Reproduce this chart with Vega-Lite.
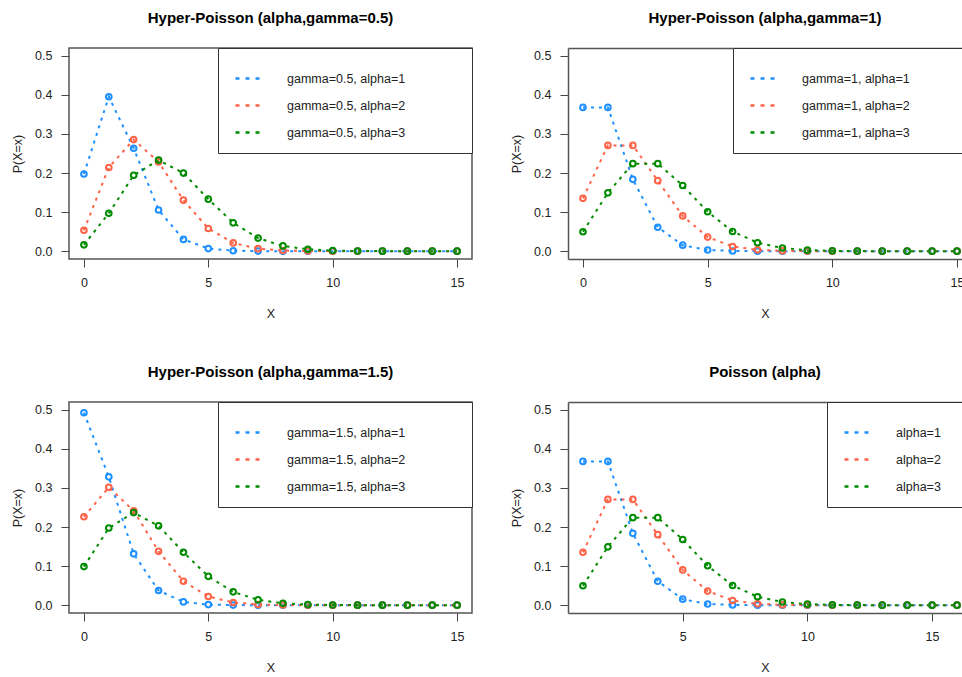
{
  "$schema": "https://vega.github.io/schema/vega-lite/v6.json",
  "padding": {"left": 10, "top": 9, "right": 0, "bottom": 0},
  "background": "white",
  "datasets": {
    "g05": [
      {"series": "gamma=0.5, alpha=1", "x": 0, "p": 0.19762}, {"series": "gamma=0.5, alpha=1", "x": 1, "p": 0.39524}, {"series": "gamma=0.5, alpha=1", "x": 2, "p": 0.26349}, {"series": "gamma=0.5, alpha=1", "x": 3, "p": 0.1054}, {"series": "gamma=0.5, alpha=1", "x": 4, "p": 0.030114}, {"series": "gamma=0.5, alpha=1", "x": 5, "p": 0.0066918}, {"series": "gamma=0.5, alpha=1", "x": 6, "p": 0.0012167}, {"series": "gamma=0.5, alpha=1", "x": 7, "p": 0.00018719}, {"series": "gamma=0.5, alpha=1", "x": 8, "p": 0.000024957}, {"series": "gamma=0.5, alpha=1", "x": 9, "p": 2.9e-6}, {"series": "gamma=0.5, alpha=1", "x": 10, "p": 3.1e-7}, {"series": "gamma=0.5, alpha=1", "x": 11, "p": 2.9e-8}, {"series": "gamma=0.5, alpha=1", "x": 12, "p": 2.5e-9}, {"series": "gamma=0.5, alpha=1", "x": 13, "p": 0}, {"series": "gamma=0.5, alpha=1", "x": 14, "p": 0}, {"series": "gamma=0.5, alpha=1", "x": 15, "p": 0},
      {"series": "gamma=0.5, alpha=2", "x": 0, "p": 0.053536}, {"series": "gamma=0.5, alpha=2", "x": 1, "p": 0.21414}, {"series": "gamma=0.5, alpha=2", "x": 2, "p": 0.28553}, {"series": "gamma=0.5, alpha=2", "x": 3, "p": 0.22842}, {"series": "gamma=0.5, alpha=2", "x": 4, "p": 0.13053}, {"series": "gamma=0.5, alpha=2", "x": 5, "p": 0.058011}, {"series": "gamma=0.5, alpha=2", "x": 6, "p": 0.021095}, {"series": "gamma=0.5, alpha=2", "x": 7, "p": 0.0064908}, {"series": "gamma=0.5, alpha=2", "x": 8, "p": 0.0017309}, {"series": "gamma=0.5, alpha=2", "x": 9, "p": 0.00040727}, {"series": "gamma=0.5, alpha=2", "x": 10, "p": 0.000085743}, {"series": "gamma=0.5, alpha=2", "x": 11, "p": 0.000016332}, {"series": "gamma=0.5, alpha=2", "x": 12, "p": 2.84e-6}, {"series": "gamma=0.5, alpha=2", "x": 13, "p": 4.5e-7}, {"series": "gamma=0.5, alpha=2", "x": 14, "p": 6.7e-8}, {"series": "gamma=0.5, alpha=2", "x": 15, "p": 9.3e-9},
      {"series": "gamma=0.5, alpha=3", "x": 0, "p": 0.016186}, {"series": "gamma=0.5, alpha=3", "x": 1, "p": 0.097117}, {"series": "gamma=0.5, alpha=3", "x": 2, "p": 0.19423}, {"series": "gamma=0.5, alpha=3", "x": 3, "p": 0.23308}, {"series": "gamma=0.5, alpha=3", "x": 4, "p": 0.19979}, {"series": "gamma=0.5, alpha=3", "x": 5, "p": 0.13319}, {"series": "gamma=0.5, alpha=3", "x": 6, "p": 0.07265}, {"series": "gamma=0.5, alpha=3", "x": 7, "p": 0.033531}, {"series": "gamma=0.5, alpha=3", "x": 8, "p": 0.013412}, {"series": "gamma=0.5, alpha=3", "x": 9, "p": 0.0047336}, {"series": "gamma=0.5, alpha=3", "x": 10, "p": 0.0014948}, {"series": "gamma=0.5, alpha=3", "x": 11, "p": 0.0004271}, {"series": "gamma=0.5, alpha=3", "x": 12, "p": 0.00011142}, {"series": "gamma=0.5, alpha=3", "x": 13, "p": 0.00002674}, {"series": "gamma=0.5, alpha=3", "x": 14, "p": 5.94e-6}, {"series": "gamma=0.5, alpha=3", "x": 15, "p": 1.23e-6}
    ],
    "g1": [
      {"series": "gamma=1, alpha=1", "x": 0, "p": 0.36788}, {"series": "gamma=1, alpha=1", "x": 1, "p": 0.36788}, {"series": "gamma=1, alpha=1", "x": 2, "p": 0.18394}, {"series": "gamma=1, alpha=1", "x": 3, "p": 0.061313}, {"series": "gamma=1, alpha=1", "x": 4, "p": 0.015328}, {"series": "gamma=1, alpha=1", "x": 5, "p": 0.0030657}, {"series": "gamma=1, alpha=1", "x": 6, "p": 0.00051094}, {"series": "gamma=1, alpha=1", "x": 7, "p": 0.000072992}, {"series": "gamma=1, alpha=1", "x": 8, "p": 9.12e-6}, {"series": "gamma=1, alpha=1", "x": 9, "p": 1.01e-6}, {"series": "gamma=1, alpha=1", "x": 10, "p": 1.0e-7}, {"series": "gamma=1, alpha=1", "x": 11, "p": 9.2e-9}, {"series": "gamma=1, alpha=1", "x": 12, "p": 7.7e-10}, {"series": "gamma=1, alpha=1", "x": 13, "p": 0}, {"series": "gamma=1, alpha=1", "x": 14, "p": 0}, {"series": "gamma=1, alpha=1", "x": 15, "p": 0},
      {"series": "gamma=1, alpha=2", "x": 0, "p": 0.13534}, {"series": "gamma=1, alpha=2", "x": 1, "p": 0.27067}, {"series": "gamma=1, alpha=2", "x": 2, "p": 0.27067}, {"series": "gamma=1, alpha=2", "x": 3, "p": 0.18045}, {"series": "gamma=1, alpha=2", "x": 4, "p": 0.090224}, {"series": "gamma=1, alpha=2", "x": 5, "p": 0.036089}, {"series": "gamma=1, alpha=2", "x": 6, "p": 0.01203}, {"series": "gamma=1, alpha=2", "x": 7, "p": 0.003437}, {"series": "gamma=1, alpha=2", "x": 8, "p": 0.00085927}, {"series": "gamma=1, alpha=2", "x": 9, "p": 0.00019095}, {"series": "gamma=1, alpha=2", "x": 10, "p": 0.00003819}, {"series": "gamma=1, alpha=2", "x": 11, "p": 6.94e-6}, {"series": "gamma=1, alpha=2", "x": 12, "p": 1.16e-6}, {"series": "gamma=1, alpha=2", "x": 13, "p": 1.8e-7}, {"series": "gamma=1, alpha=2", "x": 14, "p": 2.5e-8}, {"series": "gamma=1, alpha=2", "x": 15, "p": 3.4e-9},
      {"series": "gamma=1, alpha=3", "x": 0, "p": 0.049787}, {"series": "gamma=1, alpha=3", "x": 1, "p": 0.14936}, {"series": "gamma=1, alpha=3", "x": 2, "p": 0.22404}, {"series": "gamma=1, alpha=3", "x": 3, "p": 0.22404}, {"series": "gamma=1, alpha=3", "x": 4, "p": 0.16803}, {"series": "gamma=1, alpha=3", "x": 5, "p": 0.10082}, {"series": "gamma=1, alpha=3", "x": 6, "p": 0.050409}, {"series": "gamma=1, alpha=3", "x": 7, "p": 0.021604}, {"series": "gamma=1, alpha=3", "x": 8, "p": 0.0081015}, {"series": "gamma=1, alpha=3", "x": 9, "p": 0.0027005}, {"series": "gamma=1, alpha=3", "x": 10, "p": 0.00081015}, {"series": "gamma=1, alpha=3", "x": 11, "p": 0.00022095}, {"series": "gamma=1, alpha=3", "x": 12, "p": 0.000055238}, {"series": "gamma=1, alpha=3", "x": 13, "p": 0.000012747}, {"series": "gamma=1, alpha=3", "x": 14, "p": 2.73e-6}, {"series": "gamma=1, alpha=3", "x": 15, "p": 5.5e-7}
    ],
    "g15": [
      {"series": "gamma=1.5, alpha=1", "x": 0, "p": 0.49259}, {"series": "gamma=1.5, alpha=1", "x": 1, "p": 0.3284}, {"series": "gamma=1.5, alpha=1", "x": 2, "p": 0.13136}, {"series": "gamma=1.5, alpha=1", "x": 3, "p": 0.037531}, {"series": "gamma=1.5, alpha=1", "x": 4, "p": 0.0083402}, {"series": "gamma=1.5, alpha=1", "x": 5, "p": 0.0015164}, {"series": "gamma=1.5, alpha=1", "x": 6, "p": 0.00023329}, {"series": "gamma=1.5, alpha=1", "x": 7, "p": 0.000031106}, {"series": "gamma=1.5, alpha=1", "x": 8, "p": 3.66e-6}, {"series": "gamma=1.5, alpha=1", "x": 9, "p": 3.85e-7}, {"series": "gamma=1.5, alpha=1", "x": 10, "p": 3.7e-8}, {"series": "gamma=1.5, alpha=1", "x": 11, "p": 3.2e-9}, {"series": "gamma=1.5, alpha=1", "x": 12, "p": 0}, {"series": "gamma=1.5, alpha=1", "x": 13, "p": 0}, {"series": "gamma=1.5, alpha=1", "x": 14, "p": 0}, {"series": "gamma=1.5, alpha=1", "x": 15, "p": 0},
      {"series": "gamma=1.5, alpha=2", "x": 0, "p": 0.22626}, {"series": "gamma=1.5, alpha=2", "x": 1, "p": 0.30168}, {"series": "gamma=1.5, alpha=2", "x": 2, "p": 0.24134}, {"series": "gamma=1.5, alpha=2", "x": 3, "p": 0.13791}, {"series": "gamma=1.5, alpha=2", "x": 4, "p": 0.061294}, {"series": "gamma=1.5, alpha=2", "x": 5, "p": 0.022289}, {"series": "gamma=1.5, alpha=2", "x": 6, "p": 0.0068581}, {"series": "gamma=1.5, alpha=2", "x": 7, "p": 0.0018288}, {"series": "gamma=1.5, alpha=2", "x": 8, "p": 0.0004303}, {"series": "gamma=1.5, alpha=2", "x": 9, "p": 0.000090588}, {"series": "gamma=1.5, alpha=2", "x": 10, "p": 0.000017255}, {"series": "gamma=1.5, alpha=2", "x": 11, "p": 3.0e-6}, {"series": "gamma=1.5, alpha=2", "x": 12, "p": 4.8e-7}, {"series": "gamma=1.5, alpha=2", "x": 13, "p": 7.1e-8}, {"series": "gamma=1.5, alpha=2", "x": 14, "p": 9.8e-9}, {"series": "gamma=1.5, alpha=2", "x": 15, "p": 1.3e-9},
      {"series": "gamma=1.5, alpha=3", "x": 0, "p": 0.098717}, {"series": "gamma=1.5, alpha=3", "x": 1, "p": 0.19743}, {"series": "gamma=1.5, alpha=3", "x": 2, "p": 0.23692}, {"series": "gamma=1.5, alpha=3", "x": 3, "p": 0.20307}, {"series": "gamma=1.5, alpha=3", "x": 4, "p": 0.13538}, {"series": "gamma=1.5, alpha=3", "x": 5, "p": 0.073845}, {"series": "gamma=1.5, alpha=3", "x": 6, "p": 0.034082}, {"series": "gamma=1.5, alpha=3", "x": 7, "p": 0.013633}, {"series": "gamma=1.5, alpha=3", "x": 8, "p": 0.0048116}, {"series": "gamma=1.5, alpha=3", "x": 9, "p": 0.0015195}, {"series": "gamma=1.5, alpha=3", "x": 10, "p": 0.00043414}, {"series": "gamma=1.5, alpha=3", "x": 11, "p": 0.00011325}, {"series": "gamma=1.5, alpha=3", "x": 12, "p": 0.000027181}, {"series": "gamma=1.5, alpha=3", "x": 13, "p": 6.04e-6}, {"series": "gamma=1.5, alpha=3", "x": 14, "p": 1.25e-6}, {"series": "gamma=1.5, alpha=3", "x": 15, "p": 2.4e-7}
    ],
    "pois": [
      {"series": "alpha=1", "x": 1, "p": 0.36788}, {"series": "alpha=1", "x": 2, "p": 0.36788}, {"series": "alpha=1", "x": 3, "p": 0.18394}, {"series": "alpha=1", "x": 4, "p": 0.061313}, {"series": "alpha=1", "x": 5, "p": 0.015328}, {"series": "alpha=1", "x": 6, "p": 0.0030657}, {"series": "alpha=1", "x": 7, "p": 0.00051094}, {"series": "alpha=1", "x": 8, "p": 0.000072992}, {"series": "alpha=1", "x": 9, "p": 9.12e-6}, {"series": "alpha=1", "x": 10, "p": 1.01e-6}, {"series": "alpha=1", "x": 11, "p": 1.0e-7}, {"series": "alpha=1", "x": 12, "p": 9.2e-9}, {"series": "alpha=1", "x": 13, "p": 7.7e-10}, {"series": "alpha=1", "x": 14, "p": 0}, {"series": "alpha=1", "x": 15, "p": 0}, {"series": "alpha=1", "x": 16, "p": 0},
      {"series": "alpha=2", "x": 1, "p": 0.13534}, {"series": "alpha=2", "x": 2, "p": 0.27067}, {"series": "alpha=2", "x": 3, "p": 0.27067}, {"series": "alpha=2", "x": 4, "p": 0.18045}, {"series": "alpha=2", "x": 5, "p": 0.090224}, {"series": "alpha=2", "x": 6, "p": 0.036089}, {"series": "alpha=2", "x": 7, "p": 0.01203}, {"series": "alpha=2", "x": 8, "p": 0.003437}, {"series": "alpha=2", "x": 9, "p": 0.00085927}, {"series": "alpha=2", "x": 10, "p": 0.00019095}, {"series": "alpha=2", "x": 11, "p": 0.00003819}, {"series": "alpha=2", "x": 12, "p": 6.94e-6}, {"series": "alpha=2", "x": 13, "p": 1.16e-6}, {"series": "alpha=2", "x": 14, "p": 1.8e-7}, {"series": "alpha=2", "x": 15, "p": 2.5e-8}, {"series": "alpha=2", "x": 16, "p": 3.4e-9},
      {"series": "alpha=3", "x": 1, "p": 0.049787}, {"series": "alpha=3", "x": 2, "p": 0.14936}, {"series": "alpha=3", "x": 3, "p": 0.22404}, {"series": "alpha=3", "x": 4, "p": 0.22404}, {"series": "alpha=3", "x": 5, "p": 0.16803}, {"series": "alpha=3", "x": 6, "p": 0.10082}, {"series": "alpha=3", "x": 7, "p": 0.050409}, {"series": "alpha=3", "x": 8, "p": 0.021604}, {"series": "alpha=3", "x": 9, "p": 0.0081015}, {"series": "alpha=3", "x": 10, "p": 0.0027005}, {"series": "alpha=3", "x": 11, "p": 0.00081015}, {"series": "alpha=3", "x": 12, "p": 0.00022095}, {"series": "alpha=3", "x": 13, "p": 0.000055238}, {"series": "alpha=3", "x": 14, "p": 0.000012747}, {"series": "alpha=3", "x": 15, "p": 2.73e-6}, {"series": "alpha=3", "x": 16, "p": 5.5e-7}
    ]
  },
  "config": {
    "font": "Liberation Sans",
    "view": {"stroke": "#555", "strokeWidth": 1.5},
    "axis": {
      "grid": false,
      "labelFont": "Liberation Sans", "labelFontSize": 12.5, "labelColor": "#222",
      "titleFont": "Liberation Sans", "titleFontSize": 12.5, "titleFontWeight": "normal", "titleColor": "#222",
      "tickSize": 8, "tickColor": "#444", "tickWidth": 1,
      "domain": false, "domainColor": "#555", "domainWidth": 1.5,
      "labelPadding": 9
    },
    "axisX": {"labelAngle": 0, "titlePadding": 19},
    "axisY": {"titlePadding": 10},
    "title": {"font": "Liberation Sans", "fontSize": 15, "fontWeight": "bold", "color": "#000", "anchor": "middle", "offset": 22},
    "legend": {
      "orient": "top-right", "offset": 0,
      "strokeColor": "#333", "fillColor": "white", "padding": 14,
      "symbolType": "stroke", "symbolSize": 900, "symbolStrokeWidth": 2.5, "symbolDash": [4, 6], "symbolOffset": 2,
      "labelFont": "Liberation Sans", "labelFontSize": 12.5, "labelColor": "#222", "labelOffset": 20, "labelLimit": 400,
      "rowPadding": 4
    }
  },
  "columns": 2,
  "spacing": {"row": 143, "column": 96},
  "bounds": "flush",
  "resolve": {
    "scale": {"x": "independent", "y": "independent", "color": "independent"},
    "legend": {"color": "independent"}
  },
  "concat": [
    {
      "width": 403, "height": 211,
      "title": "Hyper-Poisson (alpha,gamma=0.5)",
      "data": {"name": "g05"},
      "encoding": {
        "x": {"field": "x", "type": "quantitative", "scale": {"domain": [-0.6, 15.6], "nice": false, "zero": false}, "axis": {"values": [0, 5, 10, 15], "title": "X"}},
        "y": {"field": "p", "type": "quantitative", "scale": {"domain": [-0.02, 0.52], "nice": false, "zero": false}, "axis": {"values": [0, 0.1, 0.2, 0.3, 0.4, 0.5], "format": ".1f", "title": "P(X=x)"}},
        "color": {"field": "series", "type": "nominal", "scale": {"domain": ["gamma=0.5, alpha=1", "gamma=0.5, alpha=2", "gamma=0.5, alpha=3"], "range": ["#1E90FF", "#FF6347", "#008B00"]}, "legend": {"title": null, "labelExpr": "datum.label + '\u00a0\u00a0\u00a0\u00a0\u00a0\u00a0\u00a0\u00a0\u00a0\u00a0\u00a0\u00a0\u00a0\u00a0\u00a0\u200b'"}}
      },
      "layer": [
        {"mark": {"type": "line", "strokeWidth": 2, "strokeDash": [3, 5]}},
        {"mark": {"type": "point", "filled": false, "size": 32, "strokeWidth": 2, "opacity": 1}}
      ]
    },
    {
      "width": 394, "height": 211,
      "title": "Hyper-Poisson (alpha,gamma=1)",
      "data": {"name": "g1"},
      "view": {"stroke": null},
      "encoding": {
        "y": {"field": "p", "type": "quantitative", "scale": {"domain": [-0.02, 0.52], "nice": false, "zero": false}, "axis": {"values": [0, 0.1, 0.2, 0.3, 0.4, 0.5], "format": ".1f", "title": "P(X=x)", "domain": true}},
        "color": {"field": "series", "type": "nominal", "scale": {"domain": ["gamma=1, alpha=1", "gamma=1, alpha=2", "gamma=1, alpha=3"], "range": ["#1E90FF", "#FF6347", "#008B00"]}, "legend": {"title": null, "labelExpr": "datum.label + '\u00a0\u00a0\u00a0\u00a0\u00a0\u00a0\u00a0\u00a0\u00a0\u00a0\u00a0\u200b'"}}
      },
      "layer": [
        {"mark": {"type": "line", "strokeWidth": 2, "strokeDash": [3, 5]},
         "encoding": {"x": {"field": "x", "type": "quantitative", "scale": {"domain": [-0.6, 15.2], "nice": false, "zero": false}, "axis": {"values": [0, 5, 10, 15], "title": "X", "domain": true}}}},
        {"mark": {"type": "point", "filled": false, "size": 32, "strokeWidth": 2, "opacity": 1},
         "encoding": {"x": {"field": "x", "type": "quantitative", "scale": {"domain": [-0.6, 15.2], "nice": false, "zero": false}, "axis": {"orient": "top", "labels": false, "ticks": false, "domain": true, "title": null}}}}
      ],
      "resolve": {"axis": {"x": "independent"}}
    },
    {
      "width": 403, "height": 211,
      "title": "Hyper-Poisson (alpha,gamma=1.5)",
      "data": {"name": "g15"},
      "encoding": {
        "x": {"field": "x", "type": "quantitative", "scale": {"domain": [-0.6, 15.6], "nice": false, "zero": false}, "axis": {"values": [0, 5, 10, 15], "title": "X"}},
        "y": {"field": "p", "type": "quantitative", "scale": {"domain": [-0.02, 0.52], "nice": false, "zero": false}, "axis": {"values": [0, 0.1, 0.2, 0.3, 0.4, 0.5], "format": ".1f", "title": "P(X=x)"}},
        "color": {"field": "series", "type": "nominal", "scale": {"domain": ["gamma=1.5, alpha=1", "gamma=1.5, alpha=2", "gamma=1.5, alpha=3"], "range": ["#1E90FF", "#FF6347", "#008B00"]}, "legend": {"title": null, "labelExpr": "datum.label + '\u00a0\u00a0\u00a0\u00a0\u00a0\u00a0\u00a0\u00a0\u00a0\u00a0\u00a0\u00a0\u00a0\u00a0\u00a0\u200b'"}}
      },
      "layer": [
        {"mark": {"type": "line", "strokeWidth": 2, "strokeDash": [3, 5]}},
        {"mark": {"type": "point", "filled": false, "size": 32, "strokeWidth": 2, "opacity": 1}}
      ]
    },
    {
      "width": 394, "height": 211,
      "title": "Poisson (alpha)",
      "data": {"name": "pois"},
      "view": {"stroke": null},
      "encoding": {
        "y": {"field": "p", "type": "quantitative", "scale": {"domain": [-0.02, 0.52], "nice": false, "zero": false}, "axis": {"values": [0, 0.1, 0.2, 0.3, 0.4, 0.5], "format": ".1f", "title": "P(X=x)", "domain": true}},
        "color": {"field": "series", "type": "nominal", "scale": {"domain": ["alpha=1", "alpha=2", "alpha=3"], "range": ["#1E90FF", "#FF6347", "#008B00"]}, "legend": {"title": null, "labelExpr": "datum.label + '\u00a0\u00a0\u200b'"}}
      },
      "layer": [
        {"mark": {"type": "line", "strokeWidth": 2, "strokeDash": [3, 5]},
         "encoding": {"x": {"field": "x", "type": "quantitative", "scale": {"domain": [0.4, 16.2], "nice": false, "zero": false}, "axis": {"values": [5, 10, 15], "title": "X", "domain": true}}}},
        {"mark": {"type": "point", "filled": false, "size": 32, "strokeWidth": 2, "opacity": 1},
         "encoding": {"x": {"field": "x", "type": "quantitative", "scale": {"domain": [0.4, 16.2], "nice": false, "zero": false}, "axis": {"orient": "top", "labels": false, "ticks": false, "domain": true, "title": null}}}}
      ],
      "resolve": {"axis": {"x": "independent"}}
    }
  ]
}
